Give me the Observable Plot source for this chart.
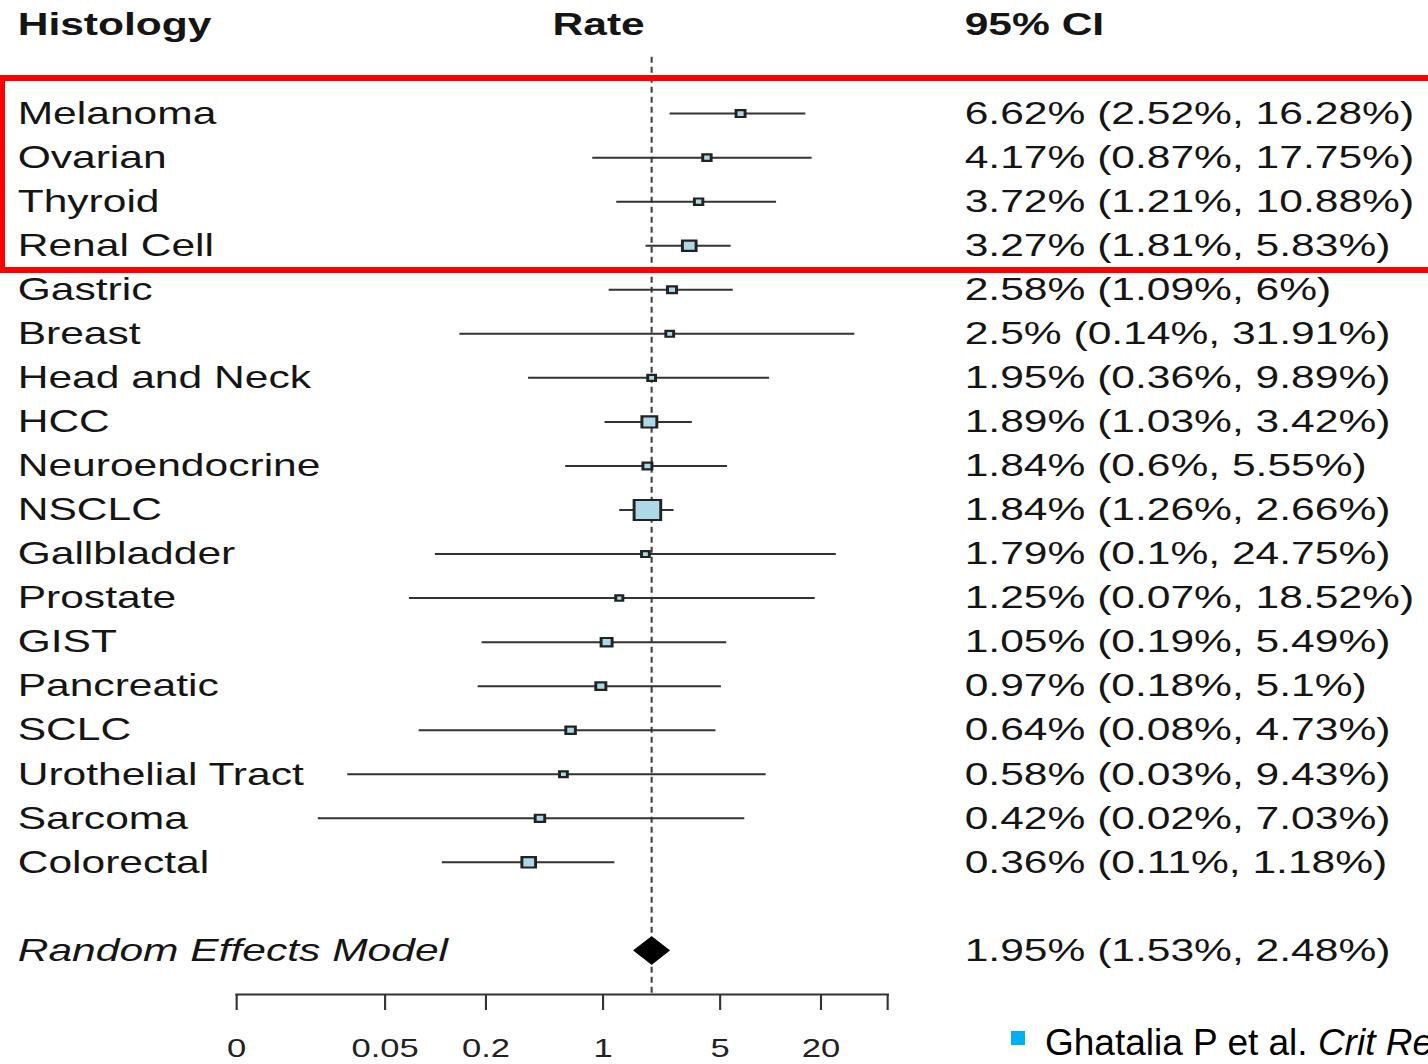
<!DOCTYPE html>
<html>
<head>
<meta charset="utf-8">
<script src="https://cdn.jsdelivr.net/npm/d3@7"></script>
<script src="https://cdn.jsdelivr.net/npm/@observablehq/plot@0.6"></script>
<style>
  html, body { margin: 0; padding: 0; background: #fff; width: 1428px; height: 1064px; overflow: hidden; position: relative; }
  #chart { position: absolute; left: 0; top: 0; }
  #highlight { position: absolute; left: -1px; top: 75px; width: 1500px; height: 186px; border: 6px solid #ff0000; }
  #bullet { position: absolute; left: 1011px; top: 1031px; width: 14px; height: 14px; background: #00b0f0; }
  #source { position: absolute; left: 1045px; top: 1024px; line-height: 37px; white-space: nowrap;
            font-family: "Liberation Sans", Arial, sans-serif; font-size: 37px; color: #000; }
</style>
</head>
<body>
<div id="chart"></div>
<div id="highlight"></div>
<div id="bullet"></div>
<div id="source">Ghatalia P et al. <i>Crit Rev Oncol Hematol. 2015</i></div>
<script>
// ---------- data ----------
const histology = ["Melanoma", "Ovarian", "Thyroid", "Renal Cell", "Gastric", "Breast", "Head and Neck", "HCC",
  "Neuroendocrine", "NSCLC", "Gallbladder", "Prostate", "GIST", "Pancreatic", "SCLC", "Urothelial Tract",
  "Sarcoma", "Colorectal"];
const rate  = [6.62, 4.17, 3.72, 3.27, 2.58, 2.5, 1.95, 1.89, 1.84, 1.84, 1.79, 1.25, 1.05, 0.97, 0.64, 0.58, 0.42, 0.36];
const lower = [2.52, 0.87, 1.21, 1.81, 1.09, 0.14, 0.36, 1.03, 0.6, 1.26, 0.1, 0.07, 0.19, 0.18, 0.08, 0.03, 0.02, 0.11];
const upper = [16.28, 17.75, 10.88, 5.83, 6, 31.91, 9.89, 3.42, 5.55, 2.66, 24.75, 18.52, 5.49, 5.1, 4.73, 9.43, 7.03, 1.18];
const weight = [1.6, 1.4, 1.4, 3.7, 1.6, 1.2, 1.2, 4.4, 1.6, 14, 1.2, 1.0, 2.4, 2.0, 1.8, 1.2, 1.8, 3.7];
const modelLabel = "Random Effects Model";
const modelRate = 1.95, modelLower = 1.53, modelUpper = 2.48;
const headers = ["Histology", "Rate", "95% CI"];
const axisTicks = [0.0065, 0.05, 0.2, 1, 5, 20, 50];
const axisLabels = ["0", "0.05", "0.2", "1", "5", "20", ""];

// ---------- layout (the picture is stretched horizontally) ----------
const S = 1.33;
const W = 1428 / S;
const frameL = 236 / S, frameR = 887 / S;
const font = '"Liberation Sans", Arial, Helvetica, sans-serif';
const ink = "#151515";

const fmt = v => `${v}%`;
const rows = histology.map((name, i) => ({
  name, rate: rate[i], lo: lower[i], hi: upper[i], w: weight[i], row: i + 2,
  ci: `${fmt(rate[i])} (${fmt(lower[i])}, ${fmt(upper[i])})`
}));
const modelRow = histology.length + 3;
const model = [{name: modelLabel, row: modelRow, ci: `${fmt(modelRate)} (${fmt(modelLower)}, ${fmt(modelUpper)})`}];
const dh = 0.31;
const diamond = [
  {x: modelLower, y: modelRow}, {x: modelRate, y: modelRow - dh},
  {x: modelUpper, y: modelRow}, {x: modelRate, y: modelRow + dh}, {x: modelLower, y: modelRow}
];
const headerRows = headers.map(label => ({label, row: 0}));
const tickRows = axisTicks.map((v, i) => ({v, label: axisLabels[i]}));
const leftDx = (17 - 236) / S;
const rightDx = (964 - 887) / S;

const plot = Plot.plot({
  width: W,
  height: 1064,
  marginLeft: frameL,
  marginRight: W - frameR,
  marginTop: 25,
  marginBottom: 70,
  style: {fontFamily: font, fontSize: "32px", color: ink, background: "#fff", overflow: "visible"},
  x: {type: "log", domain: [axisTicks[0], axisTicks[axisTicks.length - 1]]},
  y: {domain: [0, modelRow + 1], reverse: true, axis: null},
  r: {type: "sqrt", domain: [0, 14], range: [0, 11.3]},
  marks: [
    Plot.ruleX([modelRate], {y1: 0.72, y2: modelRow + 1, stroke: "#444", strokeWidth: 1.6, strokeDasharray: "6,4"}),
    Plot.ruleY(rows, {y: "row", x1: "lo", x2: "hi", stroke: "#333", strokeWidth: 2}),
    Plot.dot(rows, {x: "rate", y: "row", r: "w", symbol: "square", fill: "#add8e6", stroke: "#222", strokeWidth: 2.2}),
    Plot.line(diamond, {x: "x", y: "y", fill: "#000", stroke: "#000", strokeWidth: 1}),
    // left column
    Plot.text(rows, {y: "row", text: "name", frameAnchor: "left", dx: leftDx, textAnchor: "start", fontSize: 32, fill: ink}),
    Plot.text(model, {y: "row", text: "name", frameAnchor: "left", dx: leftDx, textAnchor: "start", fontSize: 32, fontStyle: "italic", fill: ink}),
    // right column
    Plot.text(rows, {y: "row", text: "ci", frameAnchor: "right", dx: rightDx, textAnchor: "start", fontSize: 32, fill: ink}),
    Plot.text(model, {y: "row", text: "ci", frameAnchor: "right", dx: rightDx, textAnchor: "start", fontSize: 32, fill: ink}),
    // headers
    Plot.text(headerRows.slice(0, 1), {y: "row", text: "label", frameAnchor: "left", dx: leftDx, dy: -1, textAnchor: "start", fontSize: 32, fontWeight: "bold", fill: ink}),
    Plot.text(headerRows.slice(1, 2), {y: "row", text: "label", frameAnchor: "left", dx: (598 - 236) / S, dy: -1, textAnchor: "middle", fontSize: 32, fontWeight: "bold", fill: ink}),
    Plot.text(headerRows.slice(2, 3), {y: "row", text: "label", frameAnchor: "right", dx: rightDx, dy: -1, textAnchor: "start", fontSize: 32, fontWeight: "bold", fill: ink}),
    // axis
    Plot.frame({anchor: "bottom", stroke: "#333", strokeWidth: 2}),
    Plot.axisX({ticks: axisTicks, tickFormat: () => "", tickSize: 16, stroke: "#333", strokeWidth: 1.6, label: null}),
    Plot.text(tickRows, {x: "v", text: "label", frameAnchor: "bottom", dy: 54, fontSize: 26, lineAnchor: "middle", fill: "#222"})
  ]
});

plot.setAttribute("width", 1428);
plot.setAttribute("height", 1064);
plot.setAttribute("preserveAspectRatio", "none");
plot.style.width = "1428px";
plot.style.height = "1064px";
plot.style.maxWidth = "none";
document.getElementById("chart").appendChild(plot);
</script>
</body>
</html>
